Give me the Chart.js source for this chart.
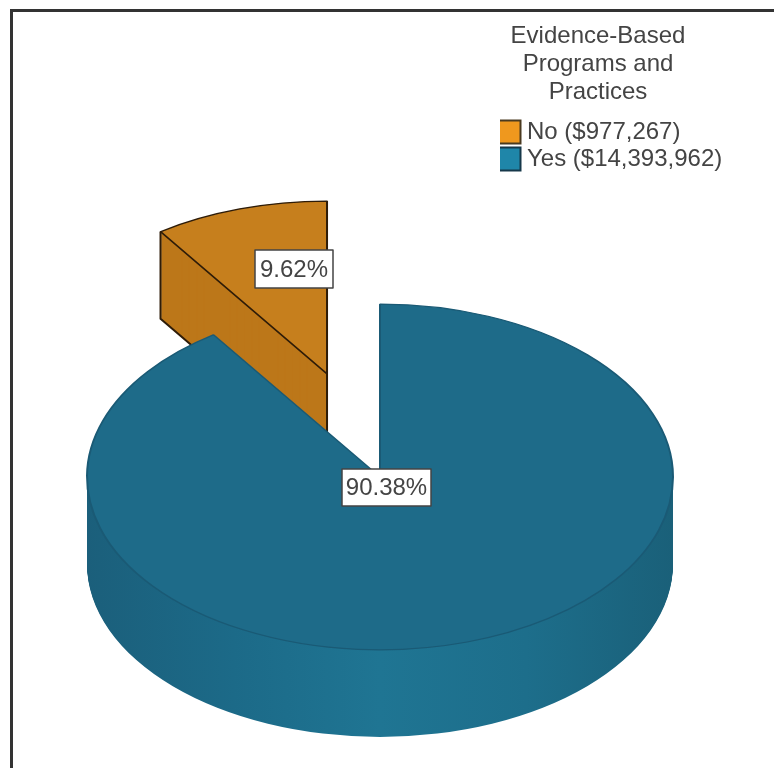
<!DOCTYPE html>
<html>
<head>
<meta charset="utf-8">
<title>Evidence-Based Programs and Practices</title>
<script src="https://cdn.jsdelivr.net/npm/chart.js@4/dist/chart.umd.min.js"></script>
<style>
  html, body { margin: 0; padding: 0; background: #fff; overflow: hidden; }
  #frame { position: absolute; left: 10px; top: 9px; right: 0; bottom: 0; border-top: 3px solid #333; border-left: 3px solid #333; }
  #chart { position: absolute; left: 0; top: 0; display: block; filter: blur(0.6px); }
</style>
</head>
<body>
<canvas id="chart" width="774" height="768"></canvas>
<div id="frame"></div>
<script>
// values
const categories = ['No', 'Yes'];
const amountLabels = ['$977,267', '$14,393,962'];
const shares = [9.62, 90.38];
const titleLines = ['Evidence-Based', 'Programs and', 'Practices'];

const topColors = ['#c67f1d', '#1e6b89'];
const borderColors = ['#2e1c08', '#1a5a75'];
const swatchColors = ['#ef981e', '#1f86a9'];
const swatchBorders = ['#4a3a20', '#16384a'];

const TILT = 0.59;      // y squash of the pie
const DEPTH = 87;       // wall height in px
const EXPLODE = 183;    // how far the No slice is pulled out
const labelBoxes = [
  { x: 255, y: 250, w: 78, h: 38 },
  { x: 342, y: 469, w: 89, h: 37 }
];

function tilt(ctx, chart, dy) {
  const cx = (chart.chartArea.left + chart.chartArea.right) / 2;
  const cy = (chart.chartArea.top + chart.chartArea.bottom) / 2;
  ctx.translate(cx, cy + dy);
  ctx.scale(1, TILT);
  ctx.translate(-cx, -cy);
}

function sector(ctx, arc) {
  ctx.beginPath();
  ctx.moveTo(arc.x, arc.y);
  ctx.arc(arc.x, arc.y, arc.outerRadius, arc.startAngle, arc.endAngle);
  ctx.closePath();
}

function wallFill(ctx, arc, i) {
  if (i === 0) return '#bc7719';
  const g = ctx.createLinearGradient(arc.x - arc.outerRadius, 0, arc.x + arc.outerRadius, 0);
  g.addColorStop(0, '#1b5f7b');
  g.addColorStop(0.25, '#1c6a88');
  g.addColorStop(0.5, '#1f7593');
  g.addColorStop(0.75, '#1d6e8b');
  g.addColorStop(1, '#1a6079');
  return g;
}

const pie3d = {
  id: 'pie3d',
  afterLayout(chart) {
    // legend and title sit over the pie, top right
    const legend = chart.legend;
    legend.left = 500; legend.right = 774; legend.top = 117; legend.bottom = 200;
    chart.titleBlock.left = 508; chart.titleBlock.right = 688;
  },
  afterDatasetsUpdate(chart) {
    // pull the slice out along its middle angle
    const arc = chart.getDatasetMeta(0).data[0];
    const mid = (arc.startAngle + arc.endAngle) / 2;
    arc.x += Math.cos(mid) * EXPLODE + 1.5;
    arc.y += Math.sin(mid) * EXPLODE;
  },
  beforeDatasetsDraw(chart) {
    const ctx = chart.ctx;
    const arcs = chart.getDatasetMeta(0).data;
    arcs.forEach((arc, i) => {
      ctx.fillStyle = wallFill(ctx, arc, i);
      for (let d = DEPTH; d > 0; d--) {
        ctx.save();
        tilt(ctx, chart, d);
        sector(ctx, arc);
        ctx.fill();
        ctx.restore();
      }
    });
    // outline of the slice wall: the two uprights and the lower edge
    const arc = arcs[0];
    ctx.save();
    tilt(ctx, chart, 0);
    const tr = ctx.getTransform();
    ctx.restore();
    const apex = tr.transformPoint(new DOMPoint(arc.x, arc.y));
    const corner = tr.transformPoint(new DOMPoint(
      arc.x + Math.cos(arc.startAngle) * arc.outerRadius,
      arc.y + Math.sin(arc.startAngle) * arc.outerRadius
    ));
    ctx.strokeStyle = borderColors[0];
    ctx.lineWidth = 2;
    ctx.lineJoin = 'round';
    ctx.beginPath();
    ctx.moveTo(corner.x, corner.y);
    ctx.lineTo(corner.x, corner.y + DEPTH);
    ctx.lineTo(apex.x, apex.y + DEPTH);
    ctx.lineTo(apex.x, apex.y);
    ctx.stroke();
    ctx.save();
    tilt(ctx, chart, 0);
  },
  afterDatasetsDraw(chart) {
    const ctx = chart.ctx;
    ctx.restore();
    ctx.save();
    ctx.font = '24px "Liberation Sans", Arial, sans-serif';
    ctx.textAlign = 'center';
    ctx.textBaseline = 'middle';
    shares.forEach((s, i) => {
      const b = labelBoxes[i];
      ctx.fillStyle = '#fff';
      ctx.fillRect(b.x, b.y, b.w, b.h);
      ctx.strokeStyle = '#444';
      ctx.lineWidth = 1.5;
      ctx.strokeRect(b.x, b.y, b.w, b.h);
      ctx.fillStyle = '#444';
      ctx.fillText(s.toFixed(2) + '%', b.x + b.w / 2, b.y + b.h / 2 + 1);
    });
    ctx.restore();
  }
};

new Chart(document.getElementById('chart'), {
  type: 'pie',
  data: {
    labels: categories,
    datasets: [{
      data: shares,
      backgroundColor: topColors,
      borderColor: borderColors,
      borderWidth: 2,
      clip: false
    }]
  },
  options: {
    responsive: false,
    animation: false,
    events: [],
    radius: 293,
    rotation: -shares[0] * 3.6,
    layout: { padding: { right: 14 } },
    plugins: {
      tooltip: { enabled: false },
      title: {
        display: true,
        text: titleLines,
        color: '#444',
        font: { family: '"Liberation Sans", Arial, sans-serif', size: 24, weight: 'normal', lineHeight: 1.167 },
        padding: { top: 22, bottom: 80 }
      },
      legend: {
        position: 'chartArea',
        align: 'start',
        labels: {
          color: '#444',
          font: { family: '"Liberation Sans", Arial, sans-serif', size: 24, lineHeight: 1 },
          usePointStyle: true,
          boxWidth: 12,
          boxHeight: 23,
          padding: 3,
          generateLabels: () => categories.map((c, i) => ({
            text: c + ' (' + amountLabels[i] + ')',
            fillStyle: swatchColors[i],
            strokeStyle: swatchBorders[i],
            lineWidth: 2,
            pointStyle: 'rect',
            fontColor: '#444'
          }))
        }
      }
    }
  },
  plugins: [pie3d]
});
</script>
</body>
</html>
